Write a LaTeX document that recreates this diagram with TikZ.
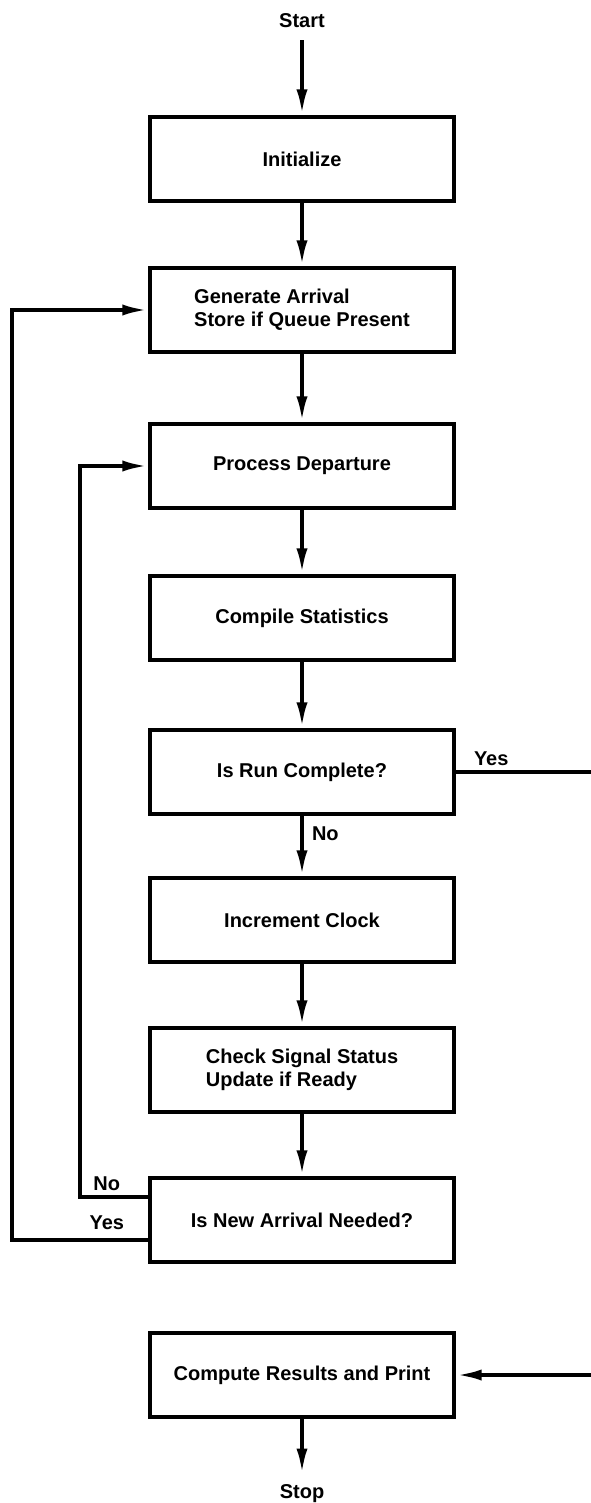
\documentclass[tikz,border=0pt]{standalone}
\usepackage{fontspec}
\setmainfont{Liberation Sans}
\usetikzlibrary{arrows.meta}
\tikzset{
  box/.style={draw,line width=1.6pt,minimum width=152pt,minimum height=42pt,align=left,font=\bfseries\fontsize{10pt}{11.5pt}\selectfont},
  flow/.style={-{Latex[length=13pt,width=5.5pt]},line width=2pt},
  lbl/.style={font=\bfseries\fontsize{10pt}{11.5pt}\selectfont,inner sep=1pt},
}
\begin{document}
\begin{tikzpicture}[x=0.5pt,y=-0.5pt]
  \useasboundingbox (0,0) rectangle (590,1503);
  \node[lbl] (start) at (302,21) {Start};
  \node[box] (init) at (302,159) {Initialize};
  \node[box] (gen) at (302,310) {Generate Arrival\\Store if Queue Present};
  \node[box] (proc) at (302,466) {Process Departure};
  \node[box] (stat) at (302,618) {Compile Statistics};
  \node[box] (run) at (302,772) {Is Run Complete?};
  \node[box] (clock) at (302,920) {Increment Clock};
  \node[box] (signal) at (302,1070) {Check Signal Status\\Update if Ready};
  \node[box] (need) at (302,1220) {Is New Arrival Needed?};
  \node[box] (result) at (302,1375) {Compute Results and Print};
  \node[lbl] (stop) at (302,1494) {Stop};
  \coordinate (yesx) at (12,0);
  \coordinate (nox) at (80,0);
  \coordinate (ret) at (606,1375);
  % main line
  \draw[flow,shorten <=5pt] (start) -- (init);
  \draw[flow] (init) -- (gen);
  \draw[flow] (gen) -- (proc);
  \draw[flow] (proc) -- (stat);
  \draw[flow] (stat) -- (run);
  \draw[flow] (run) -- node[lbl,anchor=west,pos=0.3,xshift=3pt]{No} (clock);
  \draw[flow] (clock) -- (signal);
  \draw[flow] (signal) -- (need);
  \draw[flow,shorten >=4pt] (result) -- (stop);
  % loops back
  \draw[flow] ([yshift=-9.75pt]need.west) -| (yesx |- gen.west) -- (gen.west);
  \draw[flow] ([yshift=11.75pt]need.west) -| (nox |- proc.west) -- (proc.west);
  \draw[flow] (run.east) -| (ret) -- (result.east);
  \node[lbl,anchor=south west] (yesR) at ([xshift=8pt,yshift=2pt]run.east) {Yes};
  \node[lbl,anchor=south east] (noL) at ([xshift=-13pt,yshift=13.5pt]need.west) {No};
  \node[lbl,anchor=south east] (yesL) at ([xshift=-11pt,yshift=-6pt]need.west) {Yes};
\end{tikzpicture}
\end{document}
